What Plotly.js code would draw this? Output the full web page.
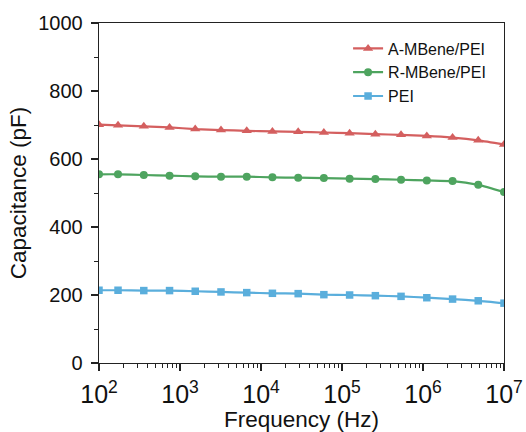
<!DOCTYPE html>
<html><head><meta charset="utf-8">
<script src="https://cdn.plot.ly/plotly-3.0.1.min.js"></script>
<style>html,body{margin:0;padding:0;background:#fff;}#chart{width:526px;height:432px;}</style>
</head><body><div id="chart"></div>
<script>
// log10 of frequency (Hz)
const logFreq = [2.0, 2.235, 2.553, 2.871, 3.188, 3.506, 3.824, 4.141, 4.459, 4.776, 5.094, 5.412, 5.729, 6.047, 6.365, 6.682, 7.0];
const aMBene = [701, 699, 696, 693, 688, 685, 683, 681, 680, 678, 676, 673, 671, 668, 663, 655, 643];
const rMBene = [555, 555, 553, 551, 549, 548, 548, 546, 545, 544, 542, 541, 539, 537, 535, 524, 503];
const pei = [214, 214, 213, 213, 211, 209, 207, 205, 204, 201, 200, 198, 196, 192, 188, 183, 176];
const seriesNames = ['A-MBene/PEI', 'R-MBene/PEI', 'PEI'];

const freq = logFreq.map(v => Math.pow(10, v));
const font = 'Liberation Sans, Arial, sans-serif';

const mk = (name, y, color, symbol, size) => ({
  x: freq, y: y, name: name, type: 'scatter', mode: 'lines+markers',
  line: {color: color, width: 2.2, shape: 'spline', smoothing: 0.6},
  marker: {color: color, symbol: symbol, size: size}
});

const data = [
  mk(seriesNames[0], aMBene, '#d45f5f', 'triangle-up', 9),
  mk(seriesNames[1], rMBene, '#4ea45f', 'circle', 8),
  mk(seriesNames[2], pei, '#5aaedc', 'square', 7.5)
];

const layout = {
  width: 526, height: 432,
  margin: {l: 99, r: 22, t: 23, b: 69},
  paper_bgcolor: '#fff', plot_bgcolor: '#fff',
  showlegend: true,
  legend: {x: 0.615, y: 0.975, xanchor: 'left', yanchor: 'top',
    font: {family: font, size: 16, color: '#111'}, bgcolor: 'rgba(0,0,0,0)',
    tracegroupgap: 0, itemwidth: 30},
  xaxis: {
    type: 'log', range: [2, 7], dtick: 1, exponentformat: 'power',
    showgrid: false, zeroline: false,
    showline: true, linecolor: '#222', linewidth: 1.3, mirror: true,
    ticks: 'outside', ticklen: 7, tickwidth: 1.3, tickcolor: '#222',
    ticklabelstandoff: 3,
    minor: {ticks: 'outside', ticklen: 3.5, tickwidth: 1, tickcolor: '#222', showgrid: false},
    tickfont: {family: font, size: 20, color: '#111'},
    title: {text: 'Frequency (Hz)', font: {family: font, size: 22.5, color: '#111'}, standoff: 6}
  },
  yaxis: {
    range: [0, 1000], dtick: 200,
    showgrid: false, zeroline: false,
    showline: true, linecolor: '#222', linewidth: 1.3, mirror: true,
    ticks: 'outside', ticklen: 7, tickwidth: 1.3, tickcolor: '#222',
    ticklabelstandoff: 4,
    minor: {ticks: 'outside', ticklen: 3.5, dtick: 100, tickwidth: 1, tickcolor: '#222', showgrid: false},
    tickfont: {family: font, size: 20, color: '#111'},
    title: {text: 'Capacitance (pF)', font: {family: font, size: 22.5, color: '#111'}, standoff: 5}
  }
};

Plotly.newPlot('chart', data, layout, {displayModeBar: false, staticPlot: true});
</script>
</body></html>
